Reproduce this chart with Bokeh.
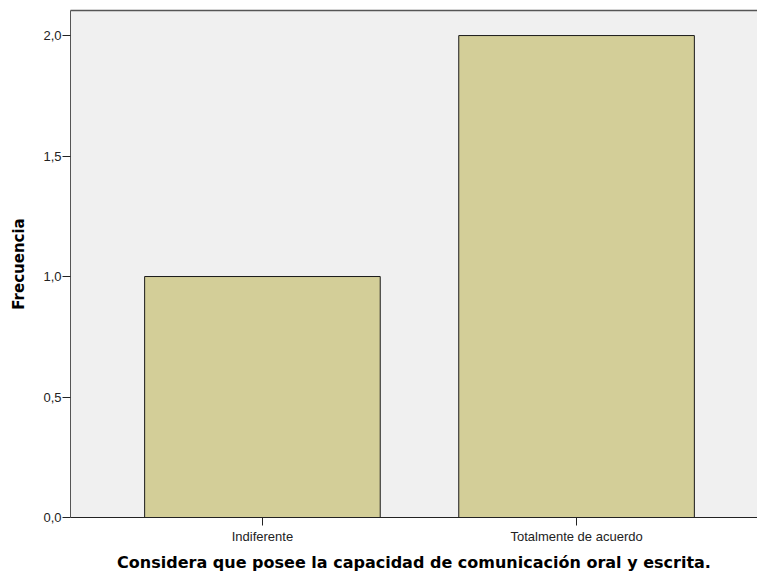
from bokeh.plotting import figure
from bokeh.models import ColumnDataSource, FixedTicker, LinearAxis, Range1d
from bokeh.embed import file_html
from bokeh.resources import INLINE

categories = ["Indiferente", "Totalmente de acuerdo"]
counts = [1, 2]
y_ticks = [0.0, 0.5, 1.0, 1.5, 2.0]
y_tick_labels = ["0,0", "0,5", "1,0", "1,5", "2,0"]

xpos = [i + 1 for i in range(len(categories))]
src = ColumnDataSource(dict(x=xpos, top=counts))

p = figure(width=757, height=574, output_backend="svg", toolbar_location=None,
           x_range=Range1d(0.389, 2.576), y_range=Range1d(0, 2.104),
           min_border_left=70, min_border_right=0, min_border_top=10,
           min_border_bottom=0)
p.background_fill_color = "#F0F0F0"
p.border_fill_color = "white"
p.outline_line_color = None
p.grid.visible = False

p.vbar(x="x", top="top", width=0.75, source=src, fill_color="#D3CE98",
       line_color="#1a1a1a", line_width=1)

xa = p.xaxis[0]
xa.ticker = FixedTicker(ticks=xpos)
xa.major_label_overrides = {x: c for x, c in zip(xpos, categories)}
xa.minor_tick_line_color = None
xa.major_tick_in = 0
xa.major_tick_out = 8
xa.axis_line_color = "#222222"
xa.major_tick_line_color = "#222222"
xa.major_label_text_font = "Liberation Sans"
xa.major_label_text_font_size = "13px"
xa.major_label_text_color = "#222222"
xa.major_label_standoff = 3
xa.axis_label = "Considera que posee la capacidad de comunicación oral y escrita."
xa.axis_label_text_font = "DejaVu Sans"
xa.axis_label_text_font_style = "bold"
xa.axis_label_text_font_size = "16px"
xa.axis_label_text_color = "black"
xa.axis_label_standoff = 6

ya = p.yaxis[0]
ya.ticker = FixedTicker(ticks=y_ticks)
ya.major_label_overrides = {t: l for t, l in zip(y_ticks, y_tick_labels)}
ya.minor_tick_line_color = None
ya.major_tick_in = 0
ya.major_tick_out = 8
ya.axis_line_color = "#555555"
ya.major_tick_line_color = "#222222"
ya.major_label_text_font = "Liberation Sans"
ya.major_label_text_font_size = "13px"
ya.major_label_text_color = "#222222"
ya.major_label_standoff = 1
ya.axis_label = "Frecuencia"
ya.axis_label_text_font = "DejaVu Sans"
ya.axis_label_text_font_style = "bold"
ya.axis_label_text_font_size = "15px"
ya.axis_label_text_color = "black"
ya.axis_label_standoff = 12

top = LinearAxis(ticker=FixedTicker(ticks=[]), major_tick_out=0, major_tick_in=0,
                 minor_tick_out=0, minor_tick_in=0,
                 major_label_text_font_size="0px", axis_line_color="#555555",
                 axis_line_width=1.5)
p.add_layout(top, "above")

open("out.html", "w").write(file_html(p, INLINE))
